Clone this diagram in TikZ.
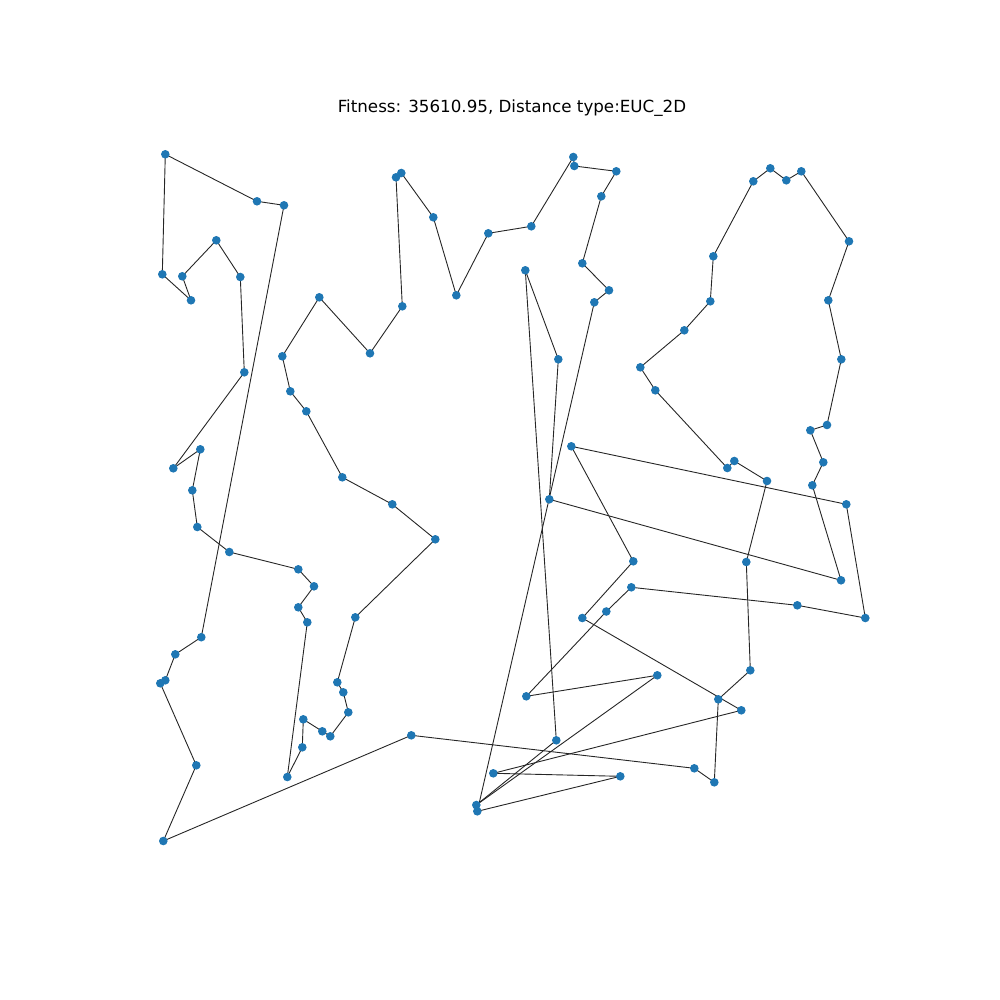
\documentclass[tikz,border=0pt]{standalone}
\usepackage{fontspec}
\setmainfont{DejaVu Sans}
\usetikzlibrary{backgrounds}
\definecolor{dotblue}{RGB}{31,119,180}
\tikzset{
  dot/.style={circle,fill=dotblue,draw=none,minimum size=8.6pt,inner sep=0pt},
  touredge/.style={draw=black!85,line width=0.9pt},
  titletext/.style={font=\fontsize{16.7}{20}\selectfont,inner sep=0pt}
}
\begin{document}
\begin{tikzpicture}[x=1pt,y=-1pt]
\useasboundingbox (0,0) rectangle (1000,1000);
\node[titletext] (title) at (512,108) {Fitness: 35610.95, Distance type:EUC\_2D};
\foreach [count=\i] \x/\y in {
163.3/841, 196.3/765.3, 160.3/683.3, 165.3/680.3, 175.3/654.3, 201.3/637.2,
284/205.3, 257/201.3, 165.3/154.3, 162.3/274.3, 191/300.3, 182.3/276.3,
216.3/240.3, 240.3/277, 244.3/372.3, 173.3/468.3, 200.3/449.3, 192.3/490.3,
197.3/527, 229.3/552, 298.3/569.3, 314/586.3, 298.3/607.3, 307.3/622.3,
287.3/777, 302.3/747.3, 303.3/719.3, 322.3/731.3, 330.3/736.3, 348.3/712.3,
343.3/692.3, 337.3/682.3, 355.3/617.3, 435.3/539.3, 392.3/504.3, 342.3/477.3,
306.3/411.3, 290.3/391.3, 282.3/356.3, 319.3/297.3, 370/353.3, 402.3/306.3,
396/177.3, 401.3/173, 433.3/217.3, 456.3/295.3, 488.3/233.3, 531.3/226.3,
573.3/157, 574.3/166, 616.3/171.3, 601.3/196.3, 582.3/263.3, 609/290.3,
594.3/302.3, 477.3/811.3, 620.3/776.3, 493.3/773.3, 741.3/710.3, 582.3/618,
633.3/561.3, 571.3/446.3, 846.3/504.3, 865.3/618, 797.3/605.3, 631.3/587.3,
606.3/611.5, 526.3/696.3, 657.3/675.3, 476.3/805, 556.3/740.3, 525.3/270.3,
558.3/359.3, 549.3/499.3, 841/580.3, 812.3/485.3, 823.3/462.3, 810.3/430.3,
827/425, 841.3/359.3, 828.3/300.3, 849/241.3, 801.3/171.3, 786.3/180.3,
770.3/168.3, 753.3/181.3, 713.3/256.3, 710.3/301.3, 684.3/330.3, 640.3/367.3,
655.3/390.3, 727.3/468, 734.3/461, 767/481, 746.3/562, 750.3/670.3,
718.3/699.3, 714.3/782.3, 694.3/768.3, 411.3/735.3}
  \node[dot] (n\i) at (\x,\y) {};
\begin{scope}[on background layer]
  \foreach \i [evaluate=\i as \j using int(\i+1)] in {1,...,99}
    \draw[touredge] (n\i.center) -- (n\j.center);
  \draw[touredge] (n100.center) -- (n1.center);
\end{scope}
\end{tikzpicture}
\end{document}
